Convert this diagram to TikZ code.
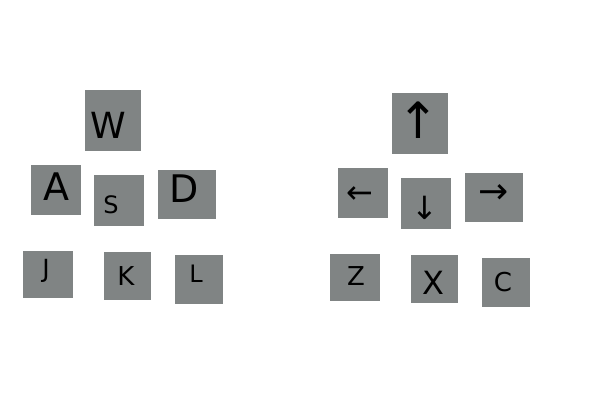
\documentclass[tikz,border=0pt]{standalone}
\usepackage{fontspec}
\setmainfont{DejaVu Sans}
\definecolor{keygray}{RGB}{128,132,132}
\newcommand{\fs}[1]{\fontsize{#1}{#1}\selectfont}
\begin{document}
\begin{tikzpicture}[x=1pt,y=-1pt,
  keybox/.style={fill=keygray, draw=none, inner sep=0pt, outer sep=0pt},
  lbl/.style={inner sep=0pt, text=black, anchor=center}]
\useasboundingbox (0,0) rectangle (600,400);
\fill[white] (0,0) rectangle (600,400);
% left cluster
\node[keybox, minimum width=56pt, minimum height=61pt] (kw) at (113,120.5) {};
\node[keybox, minimum width=50pt, minimum height=50pt] (ka) at (56,190) {};
\node[keybox, minimum width=50pt, minimum height=51pt] (ks) at (119,200.5) {};
\node[keybox, minimum width=58pt, minimum height=49pt] (kd) at (187,194.5) {};
\node[keybox, minimum width=50pt, minimum height=47pt] (kj) at (48,274.5) {};
\node[keybox, minimum width=47pt, minimum height=48pt] (kk) at (127.5,276) {};
\node[keybox, minimum width=48pt, minimum height=49pt] (kl) at (199,279.5) {};
% right cluster
\node[keybox, minimum width=56pt, minimum height=61pt] (kup) at (420,123.5) {};
\node[keybox, minimum width=50pt, minimum height=50pt] (kleft) at (363,193) {};
\node[keybox, minimum width=50pt, minimum height=51pt] (kdown) at (426,203.5) {};
\node[keybox, minimum width=58pt, minimum height=49pt] (kright) at (494,197.5) {};
\node[keybox, minimum width=50pt, minimum height=47pt] (kz) at (355,277.5) {};
\node[keybox, minimum width=47pt, minimum height=48pt] (kx) at (434.5,279) {};
\node[keybox, minimum width=48pt, minimum height=49pt] (kc) at (506,282.5) {};
% labels
\node[lbl] (tw) at (108,125.5) {\fs{36}W};
\node[lbl] (ta) at (56,187) {\fs{38}A};
\node[lbl] (ts) at (111,205) {\fs{24}S};
\node[lbl] (td) at (184,189) {\fs{38}D};
\node[lbl] (tj) at (46,271) {\fs{25}J};
\node[lbl] (tk) at (126,276) {\fs{26}K};
\node[lbl] (tl) at (196,274) {\fs{24}L};
\node[lbl] (tup) at (418,120) {\fs{50}↑};
\node[lbl] (tleft) at (360,195) {\fs{32}←};
\node[lbl] (tdown) at (425,208) {\fs{32}↓};
\node[lbl] (tright) at (494,194) {\fs{36}→};
\node[lbl] (tz) at (356,276) {\fs{26}Z};
\node[lbl] (tx) at (433,283) {\fs{32}X};
\node[lbl] (tc) at (503,282) {\fs{26}C};
\end{tikzpicture}
\end{document}
